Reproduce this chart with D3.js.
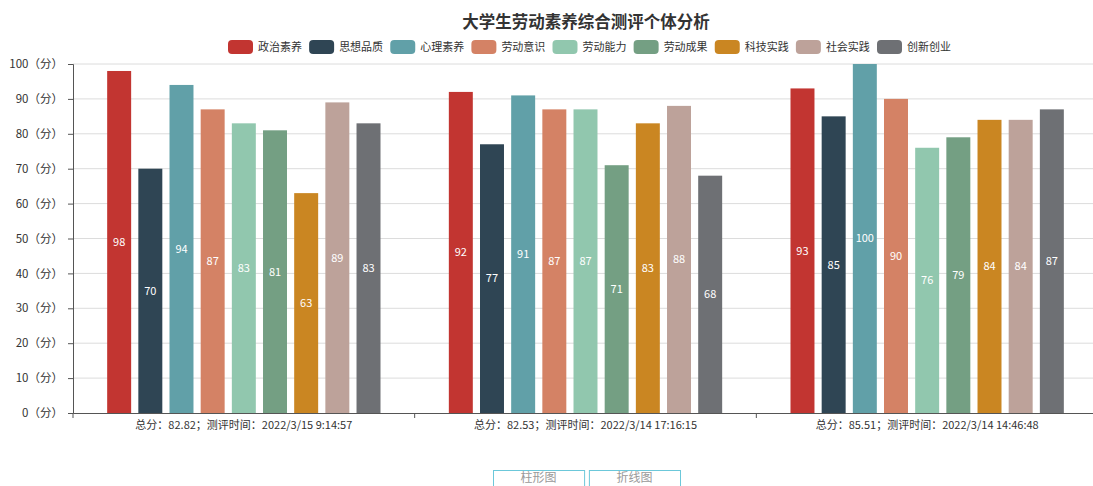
<!DOCTYPE html>
<html>
<head>
<meta charset="utf-8">
<script src="https://cdn.jsdelivr.net/npm/d3@7"></script>
<style>
  html, body { margin: 0; padding: 0; background: #fff; overflow: hidden; }
  svg { display: block; font-family: "Noto Sans CJK SC", "Microsoft YaHei", sans-serif; }
</style>
</head>
<body>
<script>
// chart data
const title = "大学生劳动素养综合测评个体分析";
const seriesNames = ["政治素养", "思想品质", "心理素养", "劳动意识", "劳动能力", "劳动成果", "科技实践", "社会实践", "创新创业"];
const categories = [
    "总分：82.82；测评时间：2022/3/15 9:14:57",
    "总分：82.53；测评时间：2022/3/14 17:16:15",
    "总分：85.51；测评时间：2022/3/14 14:46:48"
];
// one array per series, one value per category
const seriesValues = [
    [98, 92, 93],
    [70, 77, 85],
    [94, 91, 100],
    [87, 87, 90],
    [83, 87, 76],
    [81, 71, 79],
    [63, 83, 84],
    [89, 88, 84],
    [83, 68, 87]
];
const yTicks = [0, 10, 20, 30, 40, 50, 60, 70, 80, 90, 100];
const buttons = ["柱形图", "折线图"];

const palette = ["#c23531", "#2f4554", "#61a0a8", "#d48265", "#91c7ae", "#749f83", "#ca8622", "#bda29a", "#6e7074"];

const W = 1093, H = 486;
const grid = { left: 73, right: 1098, top: 64, bottom: 413 };

const svg = d3.select("body").append("svg")
    .attr("width", W)
    .attr("height", H);

// scales
const x0 = d3.scaleBand()
    .domain(categories)
    .range([grid.left, grid.right]);

const bw = x0.bandwidth();
const x1 = d3.scaleBand()
    .domain(seriesNames)
    .range([bw * 0.1, bw * 0.9])
    .paddingInner(0.3 / 1.3)
    .paddingOuter(0);

const y = d3.scaleLinear()
    .domain([0, 100])
    .range([grid.bottom, grid.top]);

const color = d3.scaleOrdinal().domain(seriesNames).range(palette);

// title
svg.append("text")
    .attr("x", 586)
    .attr("y", 28)
    .attr("text-anchor", "middle")
    .style("font-size", "16.5px")
    .style("font-weight", "bold")
    .style("fill", "#333")
    .text(title);

// legend
const legendX = d3.scalePoint()
    .domain(seriesNames)
    .range([228, 877]);

const legend = svg.append("g").selectAll("g")
    .data(seriesNames)
    .join("g")
    .attr("transform", d => `translate(${legendX(d)},${40})`);

legend.append("rect")
    .attr("width", 25)
    .attr("height", 14)
    .attr("rx", 4)
    .attr("fill", d => color(d));

legend.append("text")
    .attr("x", 30)
    .attr("y", 7)
    .attr("dy", "0.35em")
    .style("font-size", "11px")
    .style("fill", "#333")
    .text(d => d);

// grid lines
svg.append("g")
    .selectAll("line")
    .data(yTicks.filter(t => t > 0))
    .join("line")
    .attr("x1", grid.left)
    .attr("x2", grid.right)
    .attr("y1", d => y(d))
    .attr("y2", d => y(d))
    .style("stroke", "#dcdcdc")
    .style("stroke-width", 1);

// bars
const groups = svg.append("g")
    .selectAll("g")
    .data(categories)
    .join("g")
    .attr("transform", d => `translate(${x0(d)},0)`);

groups.selectAll("rect")
    .data((c, ci) => seriesNames.map((s, si) => ({ s, v: seriesValues[si][ci] })))
    .join("rect")
    .attr("x", d => x1(d.s))
    .attr("width", x1.bandwidth())
    .attr("y", d => y(d.v))
    .attr("height", d => y(0) - y(d.v))
    .attr("fill", d => color(d.s));

groups.selectAll("text")
    .data((c, ci) => seriesNames.map((s, si) => ({ s, v: seriesValues[si][ci] })))
    .join("text")
    .attr("x", d => x1(d.s) + x1.bandwidth() / 2)
    .attr("y", d => (y(d.v) + y(0)) / 2)
    .attr("dy", "0.35em")
    .attr("text-anchor", "middle")
    .style("font-size", "11px")
    .style("fill", "#fff")
    .text(d => d.v);

// y axis
const yAxis = svg.append("g")
    .attr("transform", `translate(${grid.left},0)`)
    .call(d3.axisLeft(y)
        .tickValues(yTicks)
        .tickSize(5)
        .tickPadding(5)
        .tickFormat(d => d + "（分）"));

yAxis.select(".domain").attr("stroke", "#555");
yAxis.selectAll(".tick line").attr("stroke", "#555");
yAxis.selectAll(".tick text")
    .style("font-size", "11.5px")
    .style("fill", "#333")
    .style("font-family", "\"Noto Sans CJK SC\", sans-serif");

// x axis
const xAxis = svg.append("g")
    .attr("transform", `translate(0,${grid.bottom})`)
    .call(d3.axisBottom(x0).tickSize(0).tickPadding(8));

xAxis.select(".domain").attr("stroke", "#555");
xAxis.selectAll(".tick text")
    .style("font-size", "11px")
    .style("fill", "#333")
    .style("font-family", "\"Noto Sans CJK SC\", sans-serif");

// boundary ticks between categories
xAxis.append("g")
    .selectAll("line")
    .data(categories)
    .join("line")
    .attr("x1", d => x0(d))
    .attr("x2", d => x0(d))
    .attr("y1", 0)
    .attr("y2", 5)
    .attr("stroke", "#555");

// chart type buttons
const btnX = d3.scaleBand()
    .domain(buttons)
    .range([493, 680])
    .paddingInner(0.05);

const btn = svg.append("g")
    .selectAll("g")
    .data(buttons)
    .join("g")
    .attr("transform", d => `translate(${btnX(d)},470)`);

btn.append("rect")
    .attr("x", 0.5)
    .attr("y", 0.5)
    .attr("width", btnX.bandwidth())
    .attr("height", 24)
    .attr("fill", "#fff")
    .attr("stroke", "#6cc8da")
    .attr("stroke-width", 1);

btn.append("text")
    .attr("x", btnX.bandwidth() / 2)
    .attr("y", 8)
    .attr("dy", "0.35em")
    .attr("text-anchor", "middle")
    .style("font-size", "12px")
    .style("fill", "#999")
    .text(d => d);
</script>
</body>
</html>
